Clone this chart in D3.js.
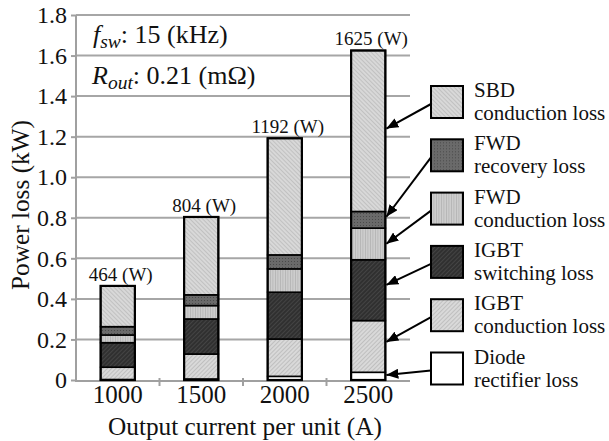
<!DOCTYPE html>
<html>
<head>
<meta charset="utf-8">
<script src="https://cdn.jsdelivr.net/npm/d3@7"></script>
<style>
  html, body { margin: 0; padding: 0; background: #fff; }
  svg { display: block; }
  svg text { font-family: 'Liberation Serif', 'Times New Roman', Times, serif; }
</style>
</head>
<body>
<svg id="chart" width="609" height="441"></svg>
<script>
// ─── Data (W) ───────────────────────────────────────────────────────────────
const categories = ['1000', '1500', '2000', '2500'];
const diodeRectifier = [2, 5, 18, 38];
const igbtConduction = [61, 123, 184, 255];
const igbtSwitching = [121, 173, 231, 300];
const fwdConduction = [38, 66, 115, 156];
const fwdRecovery = [41, 53, 69, 82];
const sbdConduction = [201, 384, 575, 794];
const totals = [464, 804, 1192, 1625];

const yTicks = [0, 0.2, 0.4, 0.6, 0.8, 1.0, 1.2, 1.4, 1.6, 1.8];
const yTickLabels = ['0', '0.2', '0.4', '0.6', '0.8', '1.0', '1.2', '1.4', '1.6', '1.8'];

// legend, bottom-up stacking order; arrow target = where it points on the 2500 bar (kW)
const seriesKeys = ['diode', 'igbtC', 'igbtS', 'fwdC', 'fwdR', 'sbd'];
const legendLines = {
  sbd: ['SBD', 'conduction loss'],
  fwdR: ['FWD', 'recovery loss'],
  fwdC: ['FWD', 'conduction loss'],
  igbtS: ['IGBT', 'switching loss'],
  igbtC: ['IGBT', 'conduction loss'],
  diode: ['Diode', 'rectifier loss']
};
const legendOrder = ['sbd', 'fwdR', 'fwdC', 'igbtS', 'igbtC', 'diode'];
const arrowTargets = [1.24, 0.805, 0.672, 0.469, 0.188, 0.025];

// ─── Layout ──────────────────────────────────────────────────────────────────
const X0 = 76, X1 = 410;
const Y0 = 380, Y1 = 15;
const FONT = "'Liberation Serif', 'Times New Roman', Times, serif";

const svg = d3.select('#chart');

const x = d3.scaleBand().domain(categories).range([X0, X1]).paddingInner(0.59).paddingOuter(0.295);
const xb = d3.scaleBand().domain(categories).range([X0, X1]);
const y = d3.scaleLinear().domain([0, 1.8]).range([Y0, Y1]);

// ─── Patterns ────────────────────────────────────────────────────────────────
const defs = svg.append('defs');

function hatch(id, bg, line, size, angle, width) {
  const p = defs.append('pattern')
    .attr('id', id)
    .attr('patternUnits', 'userSpaceOnUse')
    .attr('width', size).attr('height', size)
    .attr('patternTransform', `rotate(${angle})`);
  p.append('rect').attr('width', size).attr('height', size).attr('fill', bg);
  p.append('line').attr('x1', 0).attr('y1', 0).attr('x2', 0).attr('y2', size)
    .attr('stroke', line).attr('stroke-width', width);
}
hatch('p-sbd', '#d8d8d8', '#ababab', 3, -45, 1);
hatch('p-fwdC', '#cdcdcd', '#a0a0a0', 2.5, 0, 0.9);
hatch('p-igbtS', '#303030', '#575757', 3, 45, 1);
hatch('p-igbtC', '#d9d9d9', '#a6a6a6', 3, 45, 1);

const dots = defs.append('pattern')
  .attr('id', 'p-fwdR')
  .attr('patternUnits', 'userSpaceOnUse')
  .attr('width', 3).attr('height', 3);
dots.append('rect').attr('width', 3).attr('height', 3).attr('fill', '#6a6a6a');
dots.append('rect').attr('width', 1).attr('height', 1).attr('fill', '#4a4a4a');

const fills = {
  diode: '#ffffff',
  igbtC: 'url(#p-igbtC)',
  igbtS: 'url(#p-igbtS)',
  fwdC: 'url(#p-fwdC)',
  fwdR: 'url(#p-fwdR)',
  sbd: 'url(#p-sbd)'
};

// ─── Grid + axes ─────────────────────────────────────────────────────────────
svg.append('g')
  .selectAll('line')
  .data(yTicks.filter(d => d > 0))
  .join('line')
  .attr('x1', X0).attr('x2', X1)
  .attr('y1', d => y(d)).attr('y2', d => y(d))
  .attr('stroke', '#a6a6a6')
  .attr('stroke-width', 2);

const yAxis = svg.append('g')
  .attr('transform', `translate(${X0},0)`)
  .call(d3.axisLeft(y).tickValues(yTicks).tickFormat((d, i) => yTickLabels[i]).tickSize(5).tickPadding(4));
yAxis.attr('font-family', null);
yAxis.select('.domain').attr('stroke', '#a0a0a0').attr('stroke-width', 2)
  .attr('d', `M0,${Y1}V${Y0 + 2}`);
yAxis.selectAll('.tick line').attr('stroke', '#a0a0a0').attr('stroke-width', 2);
yAxis.selectAll('.tick text')
  .style('font-family', FONT).style('font-size', '24px').attr('fill', '#111');

const xAxis = svg.append('g')
  .attr('transform', `translate(0,${Y0 + 1})`)
  .call(d3.axisBottom(x).tickSize(0).tickPadding(4));
xAxis.attr('font-family', null);
xAxis.select('.domain').attr('stroke', '#a0a0a0').attr('stroke-width', 2)
  .attr('d', `M${X0},0H${X1}`);
xAxis.selectAll('.tick text')
  .style('font-family', FONT).style('font-size', '25px').attr('fill', '#111');

// separator ticks between categories
svg.append('g')
  .selectAll('line')
  .data(categories.slice(1))
  .join('line')
  .attr('x1', d => xb(d)).attr('x2', d => xb(d))
  .attr('y1', Y0 - 2).attr('y2', Y0 + 6)
  .attr('stroke', '#a0a0a0').attr('stroke-width', 2);

// ─── Stacked bars ────────────────────────────────────────────────────────────
const rows = categories.map((c, i) => ({
  cat: c,
  diode: diodeRectifier[i] / 1000,
  igbtC: igbtConduction[i] / 1000,
  igbtS: igbtSwitching[i] / 1000,
  fwdC: fwdConduction[i] / 1000,
  fwdR: fwdRecovery[i] / 1000,
  sbd: sbdConduction[i] / 1000
}));
const stacked = d3.stack().keys(seriesKeys)(rows);

svg.append('g')
  .selectAll('g')
  .data(stacked)
  .join('g')
  .attr('fill', d => fills[d.key])
  .selectAll('rect')
  .data(d => d)
  .join('rect')
  .attr('x', d => x(d.data.cat))
  .attr('width', x.bandwidth())
  .attr('y', d => y(d[1]))
  .attr('height', d => y(d[0]) - y(d[1]))
  .attr('stroke', '#000')
  .attr('stroke-width', 1.6);

// outer frame of each bar
svg.append('g')
  .selectAll('rect')
  .data(rows)
  .join('rect')
  .attr('x', d => x(d.cat))
  .attr('width', x.bandwidth())
  .attr('y', (d, i) => y(totals[i] / 1000))
  .attr('height', (d, i) => y(0) - y(totals[i] / 1000))
  .attr('fill', 'none')
  .attr('stroke', '#000')
  .attr('stroke-width', 2.2);

// total labels
svg.append('g')
  .selectAll('text')
  .data(totals)
  .join('text')
  .attr('x', (d, i) => x(categories[i]) + x.bandwidth() / 2 + 3)
  .attr('y', d => y(d / 1000) - 5)
  .attr('text-anchor', 'middle')
  .style('font-family', FONT).style('font-size', '19px')
  .attr('fill', '#111')
  .text(d => `${d} (W)`);

// ─── Condition annotations ───────────────────────────────────────────────────
const fsw = svg.append('text').attr('x', 93).attr('y', 43)
  .style('font-family', FONT).style('font-size', '26px').attr('fill', '#111');
fsw.append('tspan').style('font-style', 'italic').text('f');
fsw.append('tspan').style('font-style', 'italic').style('font-size', '19.5px').attr('dy', 5).text('sw');
fsw.append('tspan').attr('dy', -5).text(': 15 (kHz)');

const rout = svg.append('text').attr('x', 92).attr('y', 84)
  .style('font-family', FONT).style('font-size', '26px').attr('fill', '#111');
rout.append('tspan').style('font-style', 'italic').text('R');
rout.append('tspan').style('font-style', 'italic').style('font-size', '19.5px').attr('dy', 5).text('out');
rout.append('tspan').attr('dy', -5).text(': 0.21 (mΩ)');

// ─── Axis titles ─────────────────────────────────────────────────────────────
svg.append('text')
  .attr('x', 245).attr('y', 435)
  .attr('text-anchor', 'middle')
  .style('font-family', FONT).style('font-size', '25.3px').attr('fill', '#111')
  .text('Output current per unit (A)');

svg.append('text')
  .attr('transform', 'translate(29,205) rotate(-90)')
  .attr('text-anchor', 'middle')
  .style('font-family', FONT).style('font-size', '25.3px').attr('fill', '#111')
  .text('Power loss (kW)');

// ─── Legend with arrows ──────────────────────────────────────────────────────
defs.append('marker')
  .attr('id', 'arrow')
  .attr('viewBox', '0 0 12 10')
  .attr('refX', 12).attr('refY', 5)
  .attr('markerWidth', 12).attr('markerHeight', 10)
  .attr('markerUnits', 'userSpaceOnUse')
  .attr('orient', 'auto')
  .append('path').attr('d', 'M0,0L12,5L0,10Z').attr('fill', '#000');

const LX = 431, LTOP = 86, LSTEP = 53.3, BOX = 32;
const barRight = x('2500') + x.bandwidth() + 1;

const leg = svg.append('g')
  .selectAll('g')
  .data(legendOrder)
  .join('g')
  .attr('transform', (d, i) => `translate(${LX},${LTOP + i * LSTEP})`);

leg.append('line')
  .attr('x1', 0).attr('y1', BOX / 2 + 2)
  .attr('x2', (d, i) => barRight - LX)
  .attr('y2', (d, i) => y(arrowTargets[i]) - (LTOP + i * LSTEP))
  .attr('stroke', '#000').attr('stroke-width', 2)
  .attr('marker-end', 'url(#arrow)');

leg.append('rect')
  .attr('width', BOX).attr('height', BOX)
  .attr('fill', d => fills[d])
  .attr('stroke', '#000').attr('stroke-width', 2);

leg.append('text')
  .attr('x', 43).attr('y', 11)
  .style('font-family', FONT).style('font-size', '21px').attr('fill', '#111')
  .text(d => legendLines[d][0]);
leg.append('text')
  .attr('x', 43).attr('y', 34)
  .style('font-family', FONT).style('font-size', '21px').attr('fill', '#111')
  .text(d => legendLines[d][1]);
</script>
</body>
</html>
